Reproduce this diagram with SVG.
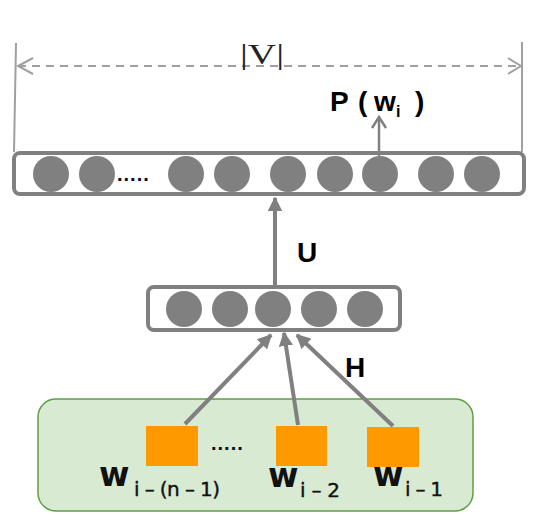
<svg xmlns="http://www.w3.org/2000/svg" width="537" height="525" viewBox="0 0 537 525">
  <defs>
    <style>
      .box { fill: #ffffff; stroke: #808080; stroke-width: 4; }
      .unit { fill: #808080; }
      .conn { stroke: #808080; stroke-width: 4; fill: none; }
      .dim { stroke: #a0a0a0; stroke-width: 2; fill: none; }
      .lbl { font-family: "Liberation Sans", Arial, sans-serif; font-weight: bold; fill: #000; }
      .wl { font-family: "DejaVu Sans", "Liberation Sans", sans-serif; font-weight: bold; font-size: 33px; fill: #111; }
      .sub { font-family: "DejaVu Sans", "Liberation Sans", sans-serif; font-size: 20px; fill: #111; stroke: #111; stroke-width: 0.4; }
      .dots { font-family: "Liberation Sans", Arial, sans-serif; font-weight: bold; font-size: 20px; fill: #0a0a20; letter-spacing: 1px; }
      .word { fill: #ff9900; }
    </style>
    <marker id="tri" viewBox="0 0 10 10" refX="9" refY="5" markerWidth="3.6" markerHeight="3.6" orient="auto" markerUnits="strokeWidth">
      <path d="M0,0 L10,5 L0,10 z" fill="#808080"/>
    </marker>
  </defs>

  <!-- dimension |V| -->
  <g id="dimension">
    <line class="dim" x1="16" y1="43" x2="14" y2="152"/>
    <line class="dim" x1="522" y1="42" x2="522" y2="152"/>
    <line class="dim" x1="18" y1="66" x2="520" y2="66" stroke-dasharray="8 6"/>
    <polyline class="dim" points="33,58 18,66 33,74"/>
    <polyline class="dim" points="508,58 521,66 508,74"/>
    <text x="240" y="64" font-family="'Liberation Serif', 'Times New Roman', serif" font-size="30" fill="#222" textLength="44" lengthAdjust="spacingAndGlyphs">|V|</text>
  </g>

  <!-- output layer -->
  <g id="output-layer">
    <rect class="box" x="14" y="153" width="510" height="41" rx="6"/>
    <circle class="unit" cx="51" cy="174" r="18"/>
    <circle class="unit" cx="97" cy="174" r="18"/>
    <text class="dots" x="117" y="181">.....</text>
    <circle class="unit" cx="186" cy="174" r="18"/>
    <circle class="unit" cx="232" cy="174" r="18"/>
    <circle class="unit" cx="288" cy="174" r="18"/>
    <circle class="unit" cx="335" cy="174" r="18"/>
    <circle class="unit" cx="380" cy="174" r="18"/>
    <circle class="unit" cx="436" cy="174" r="18"/>
    <circle class="unit" cx="482" cy="174" r="18"/>
  </g>

  <!-- P(w_i) label -->
  <g id="output-label">
    <text class="lbl" font-size="28" x="330" y="111">P</text>
    <text class="lbl" font-size="28" x="358" y="111">(</text>
    <text class="lbl" font-size="28" x="374" y="111">w</text>
    <text class="lbl" font-size="16" x="396" y="117">i</text>
    <text class="lbl" font-size="28" x="415" y="111">)</text>
  </g>

  <!-- hidden layer -->
  <g id="hidden-layer">
    <rect class="box" x="148" y="287" width="252" height="43" rx="6"/>
    <circle class="unit" cx="184" cy="309" r="18"/>
    <circle class="unit" cx="230" cy="309" r="18"/>
    <circle class="unit" cx="273" cy="309" r="18"/>
    <circle class="unit" cx="319" cy="309" r="18"/>
    <circle class="unit" cx="365" cy="309" r="18"/>
  </g>

  <!-- input context -->
  <g id="input-context">
    <rect x="38" y="399" width="435" height="112" rx="18" fill="#d9ead3" stroke="#5f9f48" stroke-width="1.5"/>
  </g>
  <g id="word-1">
    <rect class="word" x="146" y="426" width="52" height="40"/>
    <text class="wl" x="99" y="486">w</text>
    <text class="sub" x="134" y="496" textLength="86" lengthAdjust="spacing">i – (n – 1)</text>
  </g>
  <text class="dots" x="211" y="450">.....</text>
  <g id="word-2">
    <rect class="word" x="276" y="426" width="51" height="40"/>
    <text class="wl" x="268" y="487">w</text>
    <text class="sub" x="300" y="497" textLength="40" lengthAdjust="spacing">i – 2</text>
  </g>
  <g id="word-3">
    <rect class="word" x="367" y="427" width="52" height="40"/>
    <text class="wl" x="373" y="486">w</text>
    <text class="sub" x="405" y="496" textLength="38" lengthAdjust="spacing">i – 1</text>
  </g>

  <!-- connectors -->
  <g id="connectors">
    <line class="conn" x1="185" y1="424" x2="271" y2="335" marker-end="url(#tri)"/>
    <line class="conn" x1="298" y1="425" x2="284" y2="333" marker-end="url(#tri)"/>
    <line class="conn" x1="393" y1="426" x2="297" y2="335" marker-end="url(#tri)"/>
    <line class="conn" x1="275" y1="287" x2="275" y2="198" marker-end="url(#tri)"/>
    <line stroke="#808080" stroke-width="2.5" x1="379" y1="156" x2="379" y2="117"/>
    <polyline stroke="#808080" stroke-width="2.5" fill="none" points="372,128 379,117 386,128"/>
    <text class="lbl" font-size="28" x="297" y="262">U</text>
    <text class="lbl" font-size="28" x="345" y="377">H</text>
  </g>
</svg>
